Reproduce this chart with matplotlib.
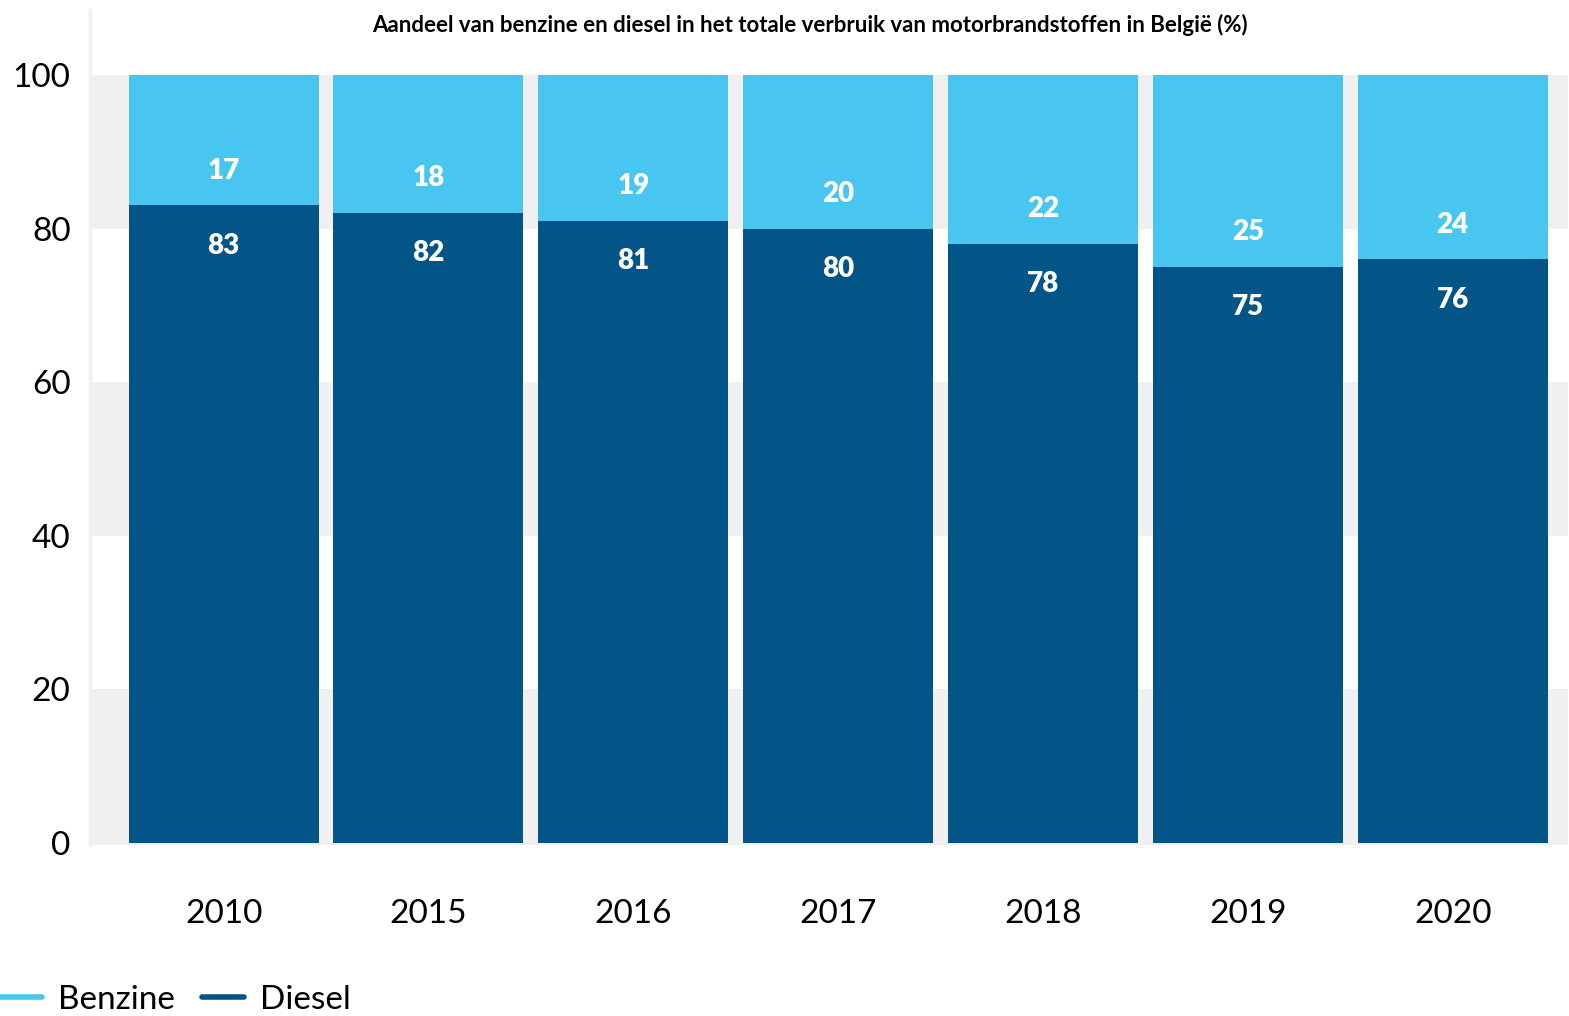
import matplotlib.pyplot as plt
import numpy as np

years = ["2010", "2015", "2016", "2017", "2018", "2019", "2020"]
diesel = [83, 82, 81, 80, 78, 75, 76]
benzine = [17, 18, 19, 20, 22, 25, 24]
yticks = [0, 20, 40, 60, 80, 100]

BENZINE_COLOR = "#48c6ef"
DIESEL_COLOR = "#025586"
BAND_COLOR = "#f0f0f0"

plt.rcParams["font.family"] = ["Lato", "DejaVu Sans"]

fig = plt.figure(figsize=(15.69, 10.16), dpi=100)
ax = fig.add_axes([90 / 1569, 1 - 845 / 1016, (1568 - 90) / 1569, 835 / 1016])

ylo, yhi = -0.26, 108.45
for lo, hi in [(ylo, 20), (40, 60), (80, 100)]:
    ax.axhspan(lo, hi, color=BAND_COLOR, zorder=0, linewidth=0)

x = np.arange(len(years))
width = 0.928
ax.bar(x, diesel, width, color=DIESEL_COLOR, label="Diesel", zorder=2)
ax.bar(x, benzine, width, bottom=diesel, color=BENZINE_COLOR, label="Benzine", zorder=2)

for xi, d, b in zip(x, diesel, benzine):
    ax.annotate(str(b), (xi, d), xytext=(0, 25), textcoords="offset points",
                ha="center", va="center", color="white", fontsize=20, fontweight="heavy", zorder=3)
    ax.annotate(str(d), (xi, d), xytext=(0, -29), textcoords="offset points",
                ha="center", va="center", color="white", fontsize=20, fontweight="heavy", zorder=3)

ax.set_xlim(-0.652, 6.563)
ax.set_ylim(ylo, yhi)
ax.set_xticks(x)
ax.set_xticklabels(years, fontsize=24)
ax.set_yticks(yticks)
ax.set_yticklabels([str(t) for t in yticks], fontsize=24)
ax.tick_params(axis="x", length=0, pad=39)
ax.tick_params(axis="y", length=0, pad=14)

for side in ["top", "right", "bottom"]:
    ax.spines[side].set_visible(False)
ax.spines["left"].set_color(BAND_COLOR)
ax.spines["left"].set_linewidth(2.5)

fig.text(810 / 1569, 1 - 25 / 1016,
         "Aandeel van benzine en diesel in het totale verbruik van motorbrandstoffen in België (%)",
         ha="center", va="center", fontsize=16, fontweight="bold")

handles = [
    plt.Line2D([], [], color=BENZINE_COLOR, linewidth=4, solid_capstyle="round"),
    plt.Line2D([], [], color=DIESEL_COLOR, linewidth=4, solid_capstyle="round"),
]
fig.legend(handles, ["Benzine", "Diesel"], loc="center left", bbox_to_anchor=(0.0, 1 - 1000 / 1016),
           ncol=2, frameon=False, fontsize=24, handlelength=1.25, handletextpad=0.5,
           columnspacing=0.8, borderpad=0, borderaxespad=0)

fig.savefig("out.png", dpi=100)
